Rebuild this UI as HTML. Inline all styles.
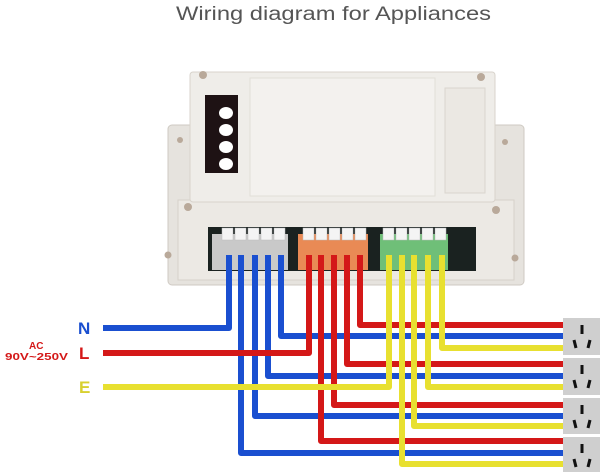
<!DOCTYPE html>
<html><head><style>html,body{margin:0;padding:0;background:#fff;}svg{display:block}</style></head>
<body>
<svg width="600" height="472" viewBox="0 0 600 472" xmlns="http://www.w3.org/2000/svg" font-family="Liberation Sans, sans-serif">
<text x="176" y="20" font-size="19" fill="#555" textLength="315" lengthAdjust="spacingAndGlyphs">Wiring diagram for Appliances</text>
<!-- device -->
<rect x="168" y="125" width="356" height="160" rx="4" fill="#e6e3de" stroke="#cfcac3"/>
<rect x="178" y="200" width="336" height="80" fill="#ece9e4" stroke="#d6d1ca"/>
<rect x="190" y="72" width="305" height="130" rx="3" fill="#efede9" stroke="#d8d3cc"/>
<rect x="250" y="78" width="185" height="118" fill="#f3f1ee" stroke="#e2ded8"/>
<rect x="445" y="88" width="40" height="105" fill="#ebe8e3" stroke="#dad5ce"/>
<circle cx="203" cy="75" r="4" fill="#b9a99a"/><circle cx="481" cy="77" r="4" fill="#b9a99a"/>
<circle cx="188" cy="207" r="4" fill="#b9a99a"/><circle cx="496" cy="210" r="4" fill="#b9a99a"/>
<circle cx="168" cy="255" r="3.5" fill="#b9a99a"/><circle cx="515" cy="258" r="3.5" fill="#b9a99a"/>
<circle cx="180" cy="140" r="3" fill="#b9a99a"/><circle cx="505" cy="142" r="3" fill="#b9a99a"/>
<rect x="205" y="95" width="33" height="78" fill="#1e1214"/>
<ellipse cx="226" cy="113" rx="7" ry="6" fill="#fff"/><ellipse cx="226" cy="130" rx="7" ry="6" fill="#fff"/>
<ellipse cx="226" cy="147" rx="7" ry="6" fill="#fff"/><ellipse cx="226" cy="164" rx="7" ry="6" fill="#fff"/>
<rect x="208" y="227" width="268" height="44" fill="#1a2220"/>
<rect x="212" y="234" width="76" height="36" fill="#c9c9c9"/>
<rect x="298" y="234" width="70" height="36" fill="#e98a55"/>
<rect x="380" y="234" width="68" height="36" fill="#6fbf78"/>
<g fill="#f4f4f4" stroke="#bbb" stroke-width="0.5">
<rect x="222" y="228" width="11" height="12"/><rect x="235" y="228" width="11" height="12"/><rect x="248" y="228" width="11" height="12"/><rect x="261" y="228" width="11" height="12"/><rect x="274" y="228" width="11" height="12"/>
<rect x="303" y="228" width="11" height="12"/><rect x="316" y="228" width="11" height="12"/><rect x="329" y="228" width="11" height="12"/><rect x="342" y="228" width="11" height="12"/><rect x="355" y="228" width="11" height="12"/>
<rect x="383" y="228" width="11" height="12"/><rect x="396" y="228" width="11" height="12"/><rect x="409" y="228" width="11" height="12"/><rect x="422" y="228" width="11" height="12"/><rect x="435" y="228" width="11" height="12"/>
</g>
<!-- sockets -->
<g fill="#cfcfcf">
<rect x="563" y="318" width="37" height="37"/><rect x="563" y="358" width="37" height="37"/>
<rect x="563" y="398" width="37" height="36"/><rect x="563" y="437" width="37" height="35"/>
</g>
<g stroke="#111" stroke-width="3">
<line x1="582" y1="325" x2="582" y2="334"/><line x1="574" y1="340" x2="576" y2="348"/><line x1="590" y1="340" x2="588" y2="348"/>
<line x1="582" y1="365" x2="582" y2="374"/><line x1="574" y1="380" x2="576" y2="388"/><line x1="590" y1="380" x2="588" y2="388"/>
<line x1="582" y1="405" x2="582" y2="414"/><line x1="574" y1="420" x2="576" y2="428"/><line x1="590" y1="420" x2="588" y2="428"/>
<line x1="582" y1="444" x2="582" y2="453"/><line x1="574" y1="459" x2="576" y2="467"/><line x1="590" y1="459" x2="588" y2="467"/>
</g>
<!-- wires -->
<g fill="none" stroke-width="6" stroke-linejoin="round">
<g stroke="#1a4fd0">
<path d="M103 328 H229 V255"/><path d="M241 255 V453 H563"/><path d="M255 255 V416 H563"/><path d="M268 255 V376 H563"/><path d="M281 255 V336 H563"/>
</g>
<g stroke="#d41818">
<path d="M103 353 H309 V255"/><path d="M321 255 V441 H563"/><path d="M334 255 V405 H563"/><path d="M347 255 V364 H563"/><path d="M360 255 V325 H563"/>
</g>
<g stroke="#e8e030">
<path d="M103 387 H389 V255"/><path d="M402 255 V464 H563"/><path d="M414 255 V426 H563"/><path d="M428 255 V387 H563"/><path d="M442 255 V348 H563"/>
</g>
</g>
<!-- labels -->
<text x="78" y="334" font-size="17" font-weight="bold" fill="#1a4fd0">N</text>
<text x="79" y="359" font-size="17" font-weight="bold" fill="#d41818">L</text>
<text x="79" y="393" font-size="17" font-weight="bold" fill="#d8d030">E</text>
<text x="29" y="349" font-size="10" font-weight="bold" fill="#d41818">AC</text>
<text x="5" y="360" font-size="10" font-weight="bold" fill="#d41818" textLength="63" lengthAdjust="spacingAndGlyphs">90V~250V</text>
</svg>
</body></html>
